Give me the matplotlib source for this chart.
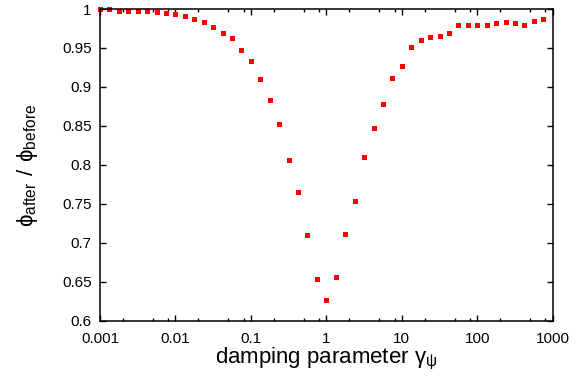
import matplotlib
matplotlib.use('Agg')
import matplotlib.pyplot as plt
from matplotlib.ticker import LogLocator, FixedLocator, NullFormatter

plt.rcParams['font.family'] = ['Liberation Sans', 'DejaVu Sans']

# damping parameter (8 points per decade) and phi ratio
gamma = [0.001, 0.00133, 0.00178, 0.00237, 0.00316, 0.00422, 0.00562, 0.0075,
         0.01, 0.0133, 0.0178, 0.0237, 0.0316, 0.0422, 0.0562, 0.075,
         0.1, 0.133, 0.178, 0.237, 0.316, 0.422, 0.562, 0.75,
         1.0, 1.33, 1.78, 2.37, 3.16, 4.22, 5.62, 7.5,
         10.0, 13.3, 17.8, 23.7, 31.6, 42.2, 56.2, 75.0,
         100.0, 133.0, 178.0, 237.0, 316.0, 422.0, 562.0, 750.0]
ratio = [0.9995, 0.9995, 0.998, 0.998, 0.998, 0.997, 0.996, 0.995,
         0.993, 0.991, 0.987, 0.983, 0.9765, 0.969, 0.9624, 0.948,
         0.933, 0.910, 0.883, 0.852, 0.806, 0.766, 0.710, 0.6535,
         0.6265, 0.657, 0.711, 0.7535, 0.810, 0.848, 0.878, 0.912,
         0.9265, 0.951, 0.960, 0.9637, 0.966, 0.969, 0.979, 0.980,
         0.979, 0.980, 0.9817, 0.983, 0.982, 0.979, 0.984, 0.987]

xticks = [0.001, 0.01, 0.1, 1, 10, 100, 1000]
xticklabels = ['0.001', '0.01', '0.1', '1', '10', '100', '1000']
yticks = [0.6, 0.65, 0.7, 0.75, 0.8, 0.85, 0.9, 0.95, 1.0]
yticklabels = ['0.6', '0.65', '0.7', '0.75', '0.8', '0.85', '0.9', '0.95', '1']

fig = plt.figure(figsize=(5.87, 3.83), dpi=100)
ax = fig.add_axes([0.1704, 0.1619, 0.7712, 0.8146])

ax.plot(gamma, ratio, linestyle='none', marker='s', markersize=3.6,
        color='#ff0000', markeredgewidth=0, clip_on=False)

ax.set_xscale('log')
ax.set_xlim(0.001, 1000)
ax.set_ylim(0.6, 1.0)
ax.xaxis.set_major_locator(FixedLocator(xticks))
ax.set_xticklabels(xticklabels)
# only the 2, 5, 8 minor ticks show in the original
ax.xaxis.set_minor_locator(LogLocator(base=10, subs=(2, 5, 8), numticks=20))
ax.xaxis.set_minor_formatter(NullFormatter())
ax.set_yticks(yticks)
ax.set_yticklabels(yticklabels)

ax.tick_params(which='both', direction='in', top=True, right=True,
               labelsize=11, colors='black', width=1)
ax.tick_params(which='major', length=4.5)
ax.tick_params(axis='x', which='major', pad=8)
ax.tick_params(axis='y', which='major', pad=6)
ax.tick_params(which='minor', length=2.5)
for s in ax.spines.values():
    s.set_linewidth(1.1)

ax.set_xlabel(r'damping parameter $\mathregular{\gamma_{\psi}}$', fontsize=16, labelpad=0)
ax.set_ylabel(r'$\mathregular{\phi_{after}\ /\ \phi_{before}}$', fontsize=16, labelpad=16)

fig.savefig('out.png', dpi=100)
